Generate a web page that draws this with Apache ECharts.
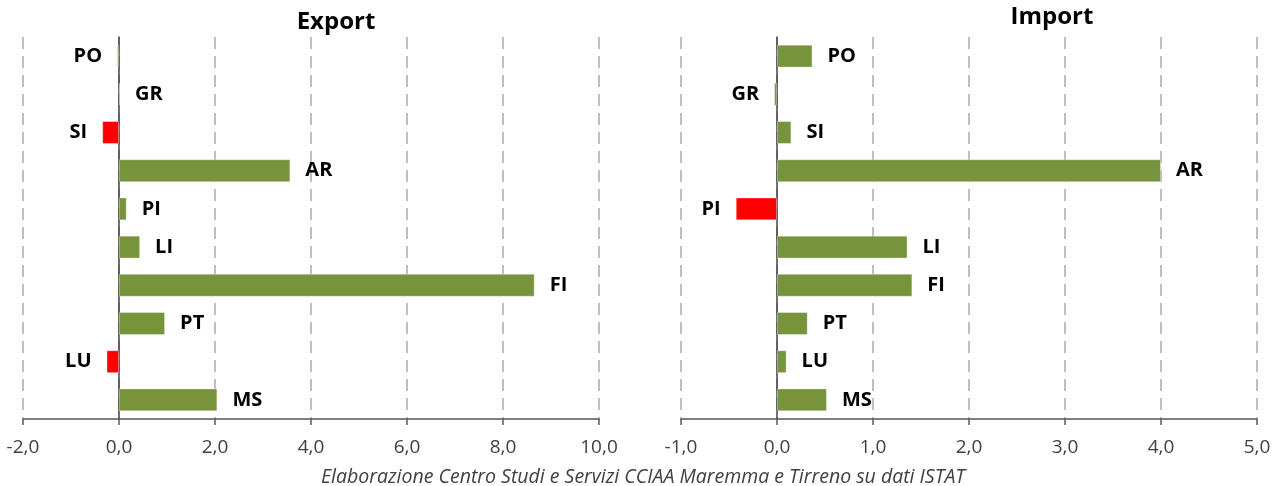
<!DOCTYPE html>
<html>
<head>
<meta charset="utf-8">
<style>
  html, body { margin: 0; padding: 0; background: #fff; }
  #chart { width: 1275px; height: 486px; }
</style>
<script src="https://cdn.jsdelivr.net/npm/echarts@6/dist/echarts.min.js"></script>
</head>
<body>
<div id="chart"></div>
<script>
// provinces, top to bottom
const categories = ['PO', 'GR', 'SI', 'AR', 'PI', 'LI', 'FI', 'PT', 'LU', 'MS'];
const exportValues = [-0.04, 0.02, -0.35, 3.57, 0.16, 0.44, 8.66, 0.96, -0.26, 2.05];
const importValues = [0.37, -0.03, 0.15, 4.00, -0.43, 1.36, 1.41, 0.32, 0.10, 0.52];

const GREEN = '#77933C';
const RED = '#FF0000';
const fontFamily = '"Open Sans", "DejaVu Sans", sans-serif';

const fmt = (v) => v.toFixed(1).replace('.', ',');

// only the clearly negative bars are painted red in the source chart
function barData(values) {
  return values.map((v) => ({
    value: v,
    itemStyle: { color: v <= -0.1 ? RED : GREEN },
    label: { position: v < 0 ? 'left' : 'right' },
  }));
}

function valueAxis(gridIndex, min, max, interval) {
  return {
    type: 'value',
    gridIndex,
    min,
    max,
    interval,
    axisLine: { show: true, lineStyle: { color: '#595959', width: 1.5 } },
    axisTick: { show: true, length: 6, lineStyle: { color: '#595959', width: 1.5 } },
    axisLabel: {
      color: '#404040',
      fontSize: 19,
      fontFamily,
      margin: 19,
      formatter: fmt,
    },
    splitLine: {
      show: true,
      lineStyle: { color: '#BFBFBF', width: 2, type: [12, 7] },
    },
  };
}

function catAxis(gridIndex) {
  return {
    type: 'category',
    gridIndex,
    data: categories,
    inverse: true,
    axisLine: { show: true, onZero: true, lineStyle: { color: '#404040', width: 1.5 } },
    axisTick: { show: false },
    axisLabel: { show: false },
    splitLine: { show: false },
  };
}

function barSeries(idx, values) {
  return {
    type: 'bar',
    xAxisIndex: idx,
    yAxisIndex: idx,
    barWidth: '60%',
    data: barData(values),
    itemStyle: { borderColor: 'rgba(255,255,255,0.35)', borderWidth: 1 },
    label: {
      show: true,
      formatter: '{b}',
      distance: 15,
      color: '#000',
      fontWeight: 'bold',
      fontSize: 20,
      fontFamily,
    },
    animation: false,
  };
}

const chart = echarts.init(document.getElementById('chart'));
chart.setOption({
  backgroundColor: '#fff',
  title: [
    {
      text: 'Export',
      left: 331,
      top: 5,
      textAlign: 'center',
      textStyle: { fontSize: 24, fontWeight: 'bold', color: '#000', fontFamily },
    },
    {
      text: 'Import',
      left: 1047,
      top: 0,
      textAlign: 'center',
      textStyle: { fontSize: 24, fontWeight: 'bold', color: '#000', fontFamily },
    },
    {
      text: 'Elaborazione Centro Studi e Servizi CCIAA Maremma e Tirreno su dati ISTAT',
      left: 638,
      top: 462,
      textAlign: 'center',
      textStyle: { fontSize: 19.5, fontWeight: 'normal', fontStyle: 'italic', color: '#404040', fontFamily },
    },
  ],
  grid: [
    { left: 23, right: 676, top: 37, bottom: 67 },
    { left: 681, right: 18, top: 37, bottom: 67 },
  ],
  xAxis: [valueAxis(0, -2, 10, 2), valueAxis(1, -1, 5, 1)],
  yAxis: [catAxis(0), catAxis(1)],
  series: [barSeries(0, exportValues), barSeries(1, importValues)],
});
</script>
</body>
</html>
